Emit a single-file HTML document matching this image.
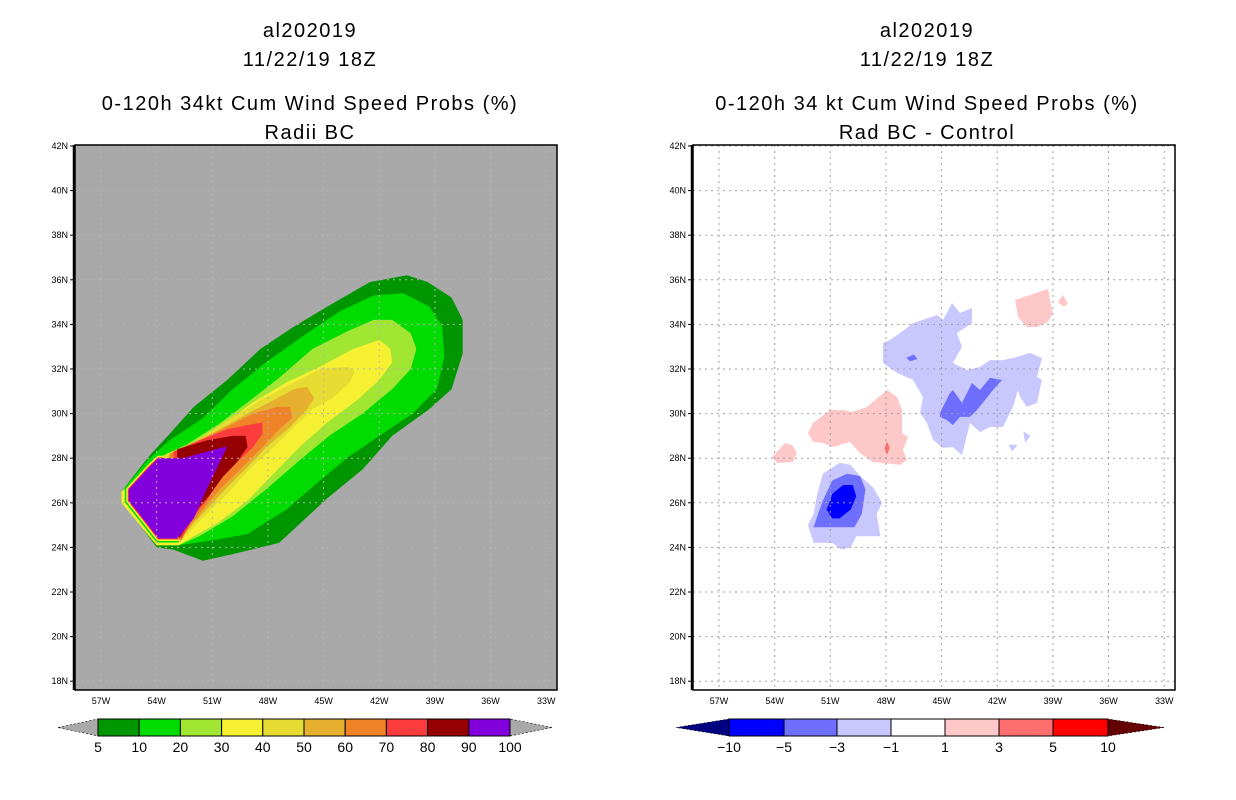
<!DOCTYPE html>
<html><head><meta charset="utf-8">
<style>
html,body{margin:0;padding:0;background:#fff;}
svg{display:block;font-family:"Liberation Sans",sans-serif;}
.t{font-size:20px;letter-spacing:1.5px;text-anchor:middle;fill:#000;}
.tick{font-size:9px;fill:#000;}
.cb{font-size:14px;text-anchor:middle;fill:#000;}
</style></head>
<body>
<svg id="chart" width="1236" height="800" viewBox="0 0 1236 800">
<g>
<text class="t" x="310" y="37">al202019</text>
<text class="t" x="310" y="66">11/22/19 18Z</text>
<text class="t" x="310" y="110">0-120h 34kt Cum Wind Speed Probs (%)</text>
<text class="t" x="310" y="139">Radii BC</text>
</g>
<g>
<text class="t" x="927" y="37">al202019</text>
<text class="t" x="927" y="66">11/22/19 18Z</text>
<text class="t" x="927" y="110">0-120h 34 kt Cum Wind Speed Probs (%)</text>
<text class="t" x="927" y="139">Rad BC - Control</text>
</g>
<g id="left"></g>
<g id="right"></g>
<g id="cbars"></g>
</svg>
<script>
const NS='http://www.w3.org/2000/svg';
const lonTicks=[-57,-54,-51,-48,-45,-42,-39,-36,-33];
const latTicks=[42,40,38,36,34,32,30,28,26,24,22,20,18];
// Left panel probability contours (lon, lat)
const c5=[[-42.5,35.9],[-40.5,36.2],[-39.4,35.9],[-38.1,35.2],[-37.5,34.2],[-37.5,32.7],[-38.1,31.1],[-39.3,30.2],[-41.3,29.0],[-42.9,27.5],[-44.8,26.2],[-47.4,24.2],[-49.9,23.7],[-51.5,23.4],[-53.1,23.9],[-54.0,24.0],[-55.9,26.1],[-55.9,26.5],[-54.4,28.1],[-53.4,29.0],[-52.0,30.3],[-50.2,31.5],[-48.4,32.9],[-46.6,33.9],[-44.8,34.8]];
const c10=[[-42.3,35.3],[-40.7,35.4],[-39.3,34.8],[-38.6,33.9],[-38.5,32.5],[-38.9,31.1],[-40.2,30.0],[-42.0,29.0],[-43.6,28.1],[-45.2,27.0],[-47.0,25.7],[-49.1,24.6],[-51.1,24.3],[-52.8,24.1],[-54.0,24.1],[-55.9,26.0],[-55.9,26.5],[-54.5,27.9],[-53.3,28.8],[-51.5,29.8],[-49.9,31.1],[-48.1,32.3],[-45.9,33.6],[-44.1,34.6]];
const c20=[[-42.3,34.2],[-41.3,34.2],[-40.3,33.6],[-40.0,32.9],[-40.3,32.0],[-41.3,31.1],[-42.9,30.0],[-44.7,29.0],[-46.3,27.9],[-48.1,26.6],[-49.9,25.4],[-51.7,24.5],[-52.8,24.1],[-54.0,24.1],[-55.9,26.0],[-55.9,26.5],[-54.0,28.0],[-52.4,28.6],[-50.7,29.5],[-49.1,30.5],[-47.4,31.6],[-45.6,32.9],[-43.7,33.7]];
const c30=[[-42.0,33.3],[-41.4,32.9],[-41.3,32.3],[-42.0,31.5],[-43.2,30.6],[-44.8,29.6],[-46.3,28.5],[-47.7,27.3],[-49.1,26.1],[-50.7,25.1],[-52.0,24.5],[-52.8,24.1],[-54.0,24.1],[-55.9,26.0],[-55.9,26.5],[-53.8,28.0],[-52.0,28.7],[-50.6,29.4],[-48.8,30.5],[-47.0,31.4],[-45.2,32.1],[-43.4,32.9]];
const c40=[[-43.7,32.1],[-43.3,31.9],[-43.6,31.4],[-44.5,30.7],[-45.6,30.2],[-46.6,29.4],[-47.7,28.5],[-49.0,27.5],[-50.2,26.4],[-51.3,25.5],[-52.0,24.9],[-52.8,24.2],[-53.7,28.1],[-52.0,28.7],[-50.2,29.7],[-48.4,30.6],[-46.6,31.4],[-45.2,32.0]];
const c50=[[-45.9,31.2],[-45.5,30.7],[-45.9,30.2],[-46.8,29.4],[-48.1,28.5],[-49.1,27.6],[-50.2,26.7],[-51.3,25.7],[-52.0,25.1],[-52.8,24.3],[-53.4,28.1],[-52.0,28.7],[-50.6,29.3],[-49.1,30.0],[-47.7,30.6],[-46.6,31.1]];
const c60=[[-46.8,30.3],[-46.7,29.8],[-47.4,29.3],[-48.4,28.4],[-49.5,27.5],[-50.6,26.6],[-51.5,25.7],[-52.1,25.1],[-52.8,24.3],[-53.3,28.2],[-51.7,28.8],[-50.2,29.4],[-48.8,30.0],[-47.5,30.3]];
const c70=[[-48.3,29.6],[-48.3,29.1],[-48.8,28.5],[-49.7,27.8],[-50.6,27.0],[-51.3,26.1],[-52.0,25.4],[-52.7,24.3],[-53.1,28.3],[-51.7,28.8],[-50.2,29.3],[-49.0,29.5]];
const c80=[[-49.2,29.0],[-49.1,28.5],[-49.7,27.8],[-50.4,27.2],[-51.1,26.4],[-51.7,25.8],[-52.1,25.3],[-52.8,24.4],[-52.9,28.4],[-51.3,28.8],[-49.9,29.0]];
const c90=[[-55.5,26.6],[-55.5,26.1],[-53.9,24.4],[-52.9,24.4],[-52.0,25.3],[-51.3,26.6],[-50.2,28.5],[-50.4,28.5],[-52.6,28.0],[-53.9,28.0],[-54.4,27.6]];
const leftLevels=[c5,c10,c20,c30,c40,c50,c60,c70,c80,c90];
const leftColors=['#009600','#00dc00','#a0e632','#f5f032','#e6dc32','#e6af2d','#f08228','#fa3c3c','#960000','#8200dc'];
const leftLabels=['5','10','20','30','40','50','60','70','80','90','100'];
// Right panel difference contours
const dLightBlueA=[[-51.4,27.3],[-50.5,27.8],[-49.9,27.7],[-49.4,27.2],[-48.7,26.7],[-48.2,26.0],[-48.5,25.5],[-48.3,24.5],[-49.6,24.5],[-49.9,24.0],[-50.4,23.9],[-50.9,24.2],[-51.9,24.2],[-52.2,25.0],[-51.9,25.5],[-51.7,26.4]];
const dMidBlueA=[[-50.9,27.0],[-50.1,27.3],[-49.4,27.2],[-49.1,26.6],[-49.3,25.5],[-49.7,24.9],[-51.2,24.9],[-51.9,24.9],[-51.7,25.4],[-51.4,26.1]];
const dDarkBlueA=[[-50.9,26.4],[-50.3,26.8],[-49.8,26.8],[-49.6,26.3],[-49.9,25.7],[-50.5,25.3],[-50.9,25.3],[-51.2,25.7],[-51.0,26.1]];
const dLightBlueB=[[-48.16,33.17],[-47.78,33.30],[-47.24,33.61],[-46.54,34.06],[-45.25,34.42],[-44.92,34.20],[-44.44,34.96],[-44.01,34.51],[-43.36,34.74],[-43.36,34.06],[-44.17,33.61],[-43.90,32.99],[-44.39,32.27],[-43.63,31.96],[-42.93,32.09],[-42.39,32.40],[-41.69,32.40],[-40.94,32.54],[-40.23,32.72],[-39.59,32.49],[-39.86,31.64],[-39.59,31.51],[-39.86,30.48],[-40.40,30.30],[-40.77,30.74],[-40.88,31.06],[-41.15,30.30],[-41.69,29.40],[-42.39,29.40],[-42.93,29.17],[-43.47,29.58],[-43.90,28.14],[-44.39,28.50],[-44.92,28.46],[-45.46,28.82],[-45.79,29.58],[-46.16,30.03],[-46.00,30.74],[-46.54,31.51],[-47.40,31.82],[-48.16,32.27]];
const dLightBlueC=[[-40.6,29.2],[-40.2,29.0],[-40.5,28.7]];
const dLightBlueD=[[-41.4,28.6],[-40.9,28.6],[-41.2,28.3]];
const dMidBlueB=[[-45.09,30.03],[-44.55,30.92],[-44.39,31.06],[-43.90,30.48],[-43.36,31.37],[-42.93,31.06],[-42.39,31.60],[-41.74,31.51],[-42.23,31.06],[-43.09,30.16],[-43.47,29.85],[-44.01,29.85],[-44.39,29.49],[-44.71,29.71],[-45.09,29.85]];
const dMidBlueC=[[-46.9,32.5],[-46.5,32.65],[-46.3,32.45],[-46.7,32.35]];
const dLightRedC=[[-52.20,29.13],[-51.93,29.58],[-51.02,30.16],[-50.32,30.16],[-49.83,30.07],[-49.02,30.30],[-47.94,31.06],[-47.40,30.74],[-47.13,30.16],[-47.13,29.13],[-46.81,28.95],[-47.08,28.37],[-46.87,27.92],[-47.24,27.70],[-48.70,27.83],[-49.40,28.23],[-49.94,28.73],[-50.85,28.50],[-51.39,28.68],[-51.93,28.73]];
const dLightRedD=[[-54.14,28.05],[-53.44,28.68],[-53.06,28.59],[-52.80,28.23],[-53.01,27.83],[-53.87,27.78]];
const dLightRedE=[[-41.04,35.09],[-40.23,35.32],[-39.26,35.59],[-39.16,35.09],[-39.00,34.51],[-39.26,34.11],[-39.86,33.88],[-40.40,33.88],[-40.88,34.33]];
const dLightRedF=[[-38.73,35.0],[-38.46,35.32],[-38.19,34.96],[-38.40,34.78]];
const dRedC=[[-47.94,28.75],[-47.8,28.46],[-47.94,28.15],[-48.08,28.46]];
const rightShapes=[[dLightBlueA,'#c8c8ff'],[dMidBlueA,'#6e6eff'],[dDarkBlueA,'#0000ff'],[dLightBlueB,'#c8c8ff'],[dLightBlueC,'#c8c8ff'],[dLightBlueD,'#c8c8ff'],[dMidBlueB,'#6e6eff'],[dMidBlueC,'#6e6eff'],[dLightRedC,'#ffc8c8'],[dLightRedD,'#ffc8c8'],[dLightRedE,'#ffc8c8'],[dLightRedF,'#ffc8c8'],[dRedC,'#ff6e6e']];
const rightColors=['#000080','#0000ff','#6e6eff','#c8c8ff','#ffffff','#ffc8c8','#ff6e6e','#ff0000','#640000'];
const rightLabels=['\u221210','\u22125','\u22123','\u22121','1','3','5','10'];

function mk(tag,attrs,parent){const e=document.createElementNS(NS,tag);for(const k in attrs)e.setAttribute(k,attrs[k]);parent.appendChild(e);return e;}
const PX_LON=18.55,PX_LAT=22.3,FT=145,FB=690,FW=482;
function axes(x0){
  return {x:lon=>x0+26+(lon+57)*PX_LON, y:lat=>146+(42-lat)*PX_LAT};
}
function pts(poly,ax){return poly.map(p=>ax.x(p[0]).toFixed(1)+','+ax.y(p[1]).toFixed(1)).join(' ');}
function frame(g,x0,ax,bg){
  const cp=mk('clipPath',{id:'clip'+x0},g);
  mk('rect',{x:x0,y:FT,width:FW,height:FB-FT},cp);
  const bgr=mk('rect',{x:x0,y:FT,width:FW,height:FB-FT,fill:bg},g);
  
  
  const inner=mk('g',{'clip-path':'url(#clip'+x0+')'},g);
  return inner;
}
function grid(g,x0,ax,color){
  lonTicks.forEach(l=>{const ln=mk('line',{x1:ax.x(l),x2:ax.x(l),y1:FT,y2:FB,stroke:color,'stroke-width':1,'stroke-dasharray':'2,4'},g);
    
    });
  latTicks.forEach(l=>{const ln=mk('line',{x1:x0,x2:x0+FW,y1:ax.y(l),y2:ax.y(l),stroke:color,'stroke-width':1,'stroke-dasharray':'2,4'},g);
    
    });
}
function axisLabels(g,x0,ax){
  const fr=mk('rect',{x:x0,y:FT,width:FW,height:FB-FT,fill:'none',stroke:'#000','stroke-width':1.5},g);
  
  
  mk('line',{x1:x0-1,x2:x0-1,y1:FT,y2:FB,stroke:'#000','stroke-width':2.5},g);
  latTicks.forEach(l=>{const y=ax.y(l);
    mk('line',{x1:x0-5,x2:x0,y1:y,y2:y,stroke:'#000'},g);
    const t=mk('text',{x:x0-7,y:y+3,class:'tick','text-anchor':'end'},g);t.textContent=l+'N';
    
    });
  lonTicks.forEach(l=>{const x=ax.x(l);
    const t=mk('text',{x:x,y:704,class:'tick','text-anchor':'middle'},g);t.textContent=(-l)+'W';
    
    });
}
// LEFT
const L=document.getElementById('left');const axL=axes(75);
const inL=frame(L,75,axL,'#a9a9a9');
leftLevels.forEach((poly,i)=>{
  if(i===4){
    [['#00dc00',8],['#f5f032',5],['#fa3c3c',2]].forEach(s=>{
      const r=mk('polygon',{points:pts(c90,axL),fill:'none',stroke:s[0],'stroke-width':s[1],'stroke-linejoin':'miter'},inL);
      
      });
  }
  const p=mk('polygon',{points:pts(poly,axL),fill:leftColors[i]},inL);
  
  
});
grid(inL,75,axL,'#b4b4b4');
axisLabels(L,75,axL);
// RIGHT
const R=document.getElementById('right');const axR=axes(693);
const inR=frame(R,693,axR,'#ffffff');
rightShapes.forEach(s=>{const p=mk('polygon',{points:pts(s[0],axR),fill:s[1]},inR);
  
  });
grid(inR,693,axR,'#a0a0a0');
axisLabels(R,693,axR);
// COLORBARS
const CB=document.getElementById('cbars');
function colorbar(x0,x1,edges,colors,labels,leftTri,rightTri,name){
  const g=mk('g',{},CB);
  
  
  const yt=719,yb=736,ym=727.5;
  mk('polygon',{points:`${x0},${ym} ${edges[0]},${yt} ${edges[0]},${yb}`,fill:leftTri,stroke:'#000','stroke-width':0.6,'stroke-dasharray':'2,2'},g);
  const n=edges.length-1;
  mk('polygon',{points:`${x1},${ym} ${edges[n]},${yt} ${edges[n]},${yb}`,fill:rightTri,stroke:'#000','stroke-width':0.6,'stroke-dasharray':'2,2'},g);
  for(let i=0;i<n;i++){
    const r=mk('rect',{x:edges[i],y:yt,width:edges[i+1]-edges[i],height:yb-yt,fill:colors[i],stroke:'#000','stroke-width':1},g);
    
    
  }
  labels.forEach((lb,i)=>{const t=mk('text',{x:edges[i],y:752,class:'cb'},g);t.textContent=lb;
    
    });
}
const eL=[];for(let i=0;i<=10;i++)eL.push(98+i*41.2);
colorbar(58,552,eL,leftColors,leftLabels,'#a9a9a9','#a9a9a9','left-colorbar');
const eR=[729,784,837,891,945,999,1053,1108];
colorbar(676,1164,eR,rightColors.slice(1,8),rightLabels,rightColors[0],rightColors[8],'right-colorbar');
</script>
</body></html>
